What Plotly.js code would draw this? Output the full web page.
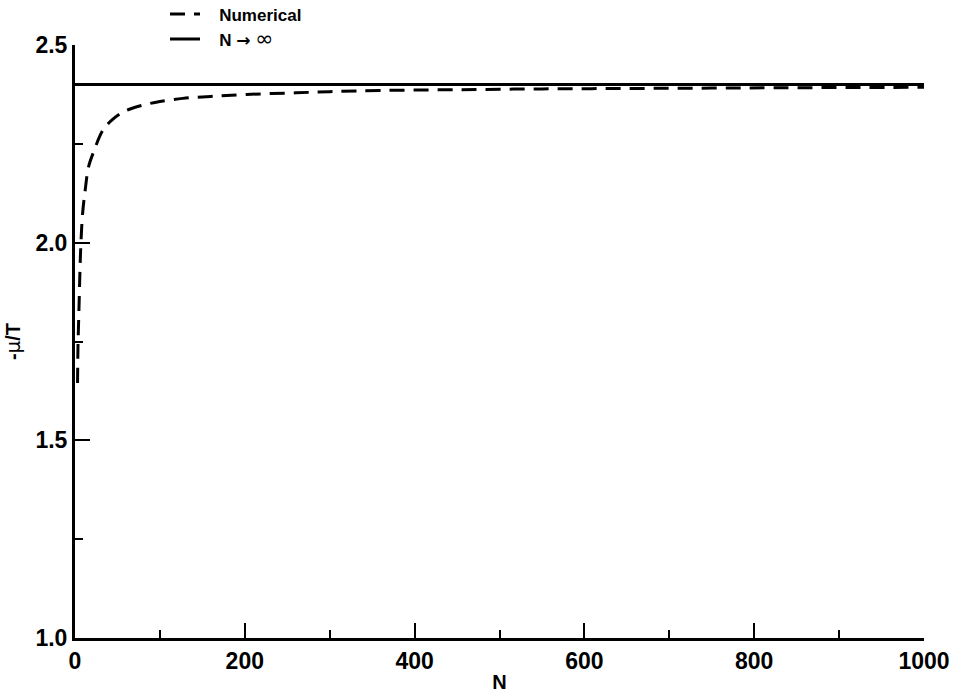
<!DOCTYPE html>
<html>
<head>
<meta charset="utf-8">
<script src="https://cdn.plot.ly/plotly-3.0.1.min.js"></script>
<style>html,body{margin:0;padding:0;background:#fff;}#chart{width:953px;height:693px;}</style>
</head>
<body>
<div id="chart"></div>
<script>
// Numerical curve
const numN = [3, 3.5, 4, 5, 6, 7, 9, 12, 16, 22, 33, 45, 57, 70, 86, 100, 127, 160, 202, 260, 300, 359, 450, 550, 650, 750, 850, 1000];
const numVal = [1.645, 1.737, 1.78, 1.86, 1.94, 2.0, 2.075, 2.133, 2.192, 2.230, 2.285, 2.313, 2.331, 2.342, 2.351, 2.357, 2.365, 2.370, 2.375, 2.379, 2.382, 2.385, 2.387, 2.389, 2.390, 2.391, 2.392, 2.393];
// Asymptotic limit
const limN = [0, 1000];
const limVal = [2.40, 2.40];
const names = ["\u00a0\u00a0\u00a0Numerical", "\u00a0\u00a0\u00a0N <span style='font-family:DejaVu Sans'>\u2192</span> <span style='font-family:DejaVu Sans;font-weight:normal;font-size:22px'>\u221e</span>"];
const xTitle = "N";
const yTitle = "-<span style='font-weight:normal;font-family:DejaVu Sans'>\u03bc</span>/T";

const font = {family: "Liberation Sans, Arial, sans-serif", color: "#000", weight: "bold"};

const traces = [
  {x: numN, y: numVal, name: names[0], mode: "lines", line: {color: "#000", width: 3, dash: "15px,9px", shape: "spline"}},
  {x: limN, y: limVal, name: names[1], mode: "lines", line: {color: "#000", width: 3}}
];

const axisCommon = {
  showline: true, linewidth: 3, linecolor: "#000", showgrid: false, zeroline: false,
  ticks: "inside", ticklen: 15, tickwidth: 2, tickcolor: "#000",
  tickfont: Object.assign({}, font, {size: 23}),
  mirror: false, automargin: false
};

const layout = {
  width: 953, height: 693,
  margin: {l: 75, r: 29, t: 45, b: 55, autoexpand: false},
  paper_bgcolor: "#fff", plot_bgcolor: "#fff",
  font: font,
  showlegend: true,
  legend: {x: 0.106, y: 1.082, xanchor: "left", yanchor: "top", bgcolor: "rgba(0,0,0,0)",
           font: Object.assign({}, font, {size: 17}), tracegroupgap: 0},
  xaxis: Object.assign({}, axisCommon, {
    range: [0, 1000], dtick: 200, tick0: 0,
    minor: {dtick: 100, ticks: "inside", ticklen: 8, tickwidth: 2, tickcolor: "#000", showgrid: false},
    title: {text: xTitle, font: Object.assign({}, font, {size: 20}), standoff: 6}
  }),
  yaxis: Object.assign({}, axisCommon, {
    range: [1, 2.5], dtick: 0.5, tick0: 1, tickformat: ".1f",
    minor: {dtick: 0.25, ticks: "inside", ticklen: 8, tickwidth: 2, tickcolor: "#000", showgrid: false},
    title: {text: yTitle, font: Object.assign({}, font, {size: 20}), standoff: 10}
  })
};

Plotly.newPlot("chart", traces, layout, {displayModeBar: false, staticPlot: true});
</script>
</body>
</html>
